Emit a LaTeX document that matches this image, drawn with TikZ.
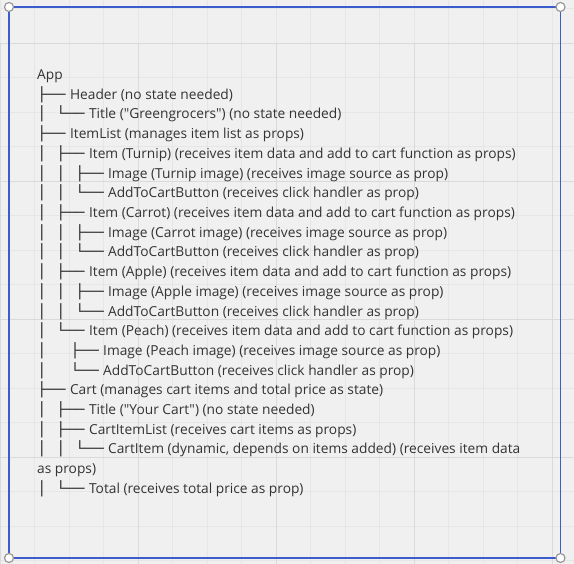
\documentclass[tikz,border=0pt]{standalone}
\usepackage{fontspec}
\setmainfont{Open Sans}[Ligatures=TeXOff]
\newfontfamily\boxfont{DejaVu Sans}[FakeStretch=1.15]
\usepackage{xcolor}
\definecolor{canvas}{HTML}{F0F0F0}
\definecolor{gridminor}{HTML}{E6E6E6}
\definecolor{gridmajor}{HTML}{DADADA}
\definecolor{frameblue}{HTML}{3A5CCC}
\definecolor{treetext}{HTML}{333333}

% tree glyphs
\newcommand{\treetee}{{\boxfont ├──}\hspace{4.3pt}}
\newcommand{\treeend}{{\boxfont └──}\hspace{4.3pt}}
\newcommand{\treebar}{{\boxfont │}\hspace{9.5pt}}
\newcommand{\treewide}{{\boxfont │}\hspace{23.6pt}}

\tikzset{
  gridline/.style={gridminor, line width=0.8pt},
  majorline/.style={gridmajor, line width=0.8pt},
  handle/.style={circle, draw=gray!80, fill=white, line width=1.2pt, inner sep=0pt, minimum size=9pt}
}

\begin{document}
\begin{tikzpicture}[x=1pt, y=-1pt]
      \useasboundingbox (0,0) rectangle (574,564);
      \fill[canvas] (0,0) rectangle (574,564);

      % background grid
      \begin{scope}[yshift=-8.5pt]
        \clip (0,-8.5) rectangle (574,555.5);
        \draw[gridline, step=34.5pt] (0,-34.5) grid (574,560);
        \draw[majorline, xstep=138pt, ystep=138pt, yshift=-34.5pt] (0,0) grid (574,600);
      \end{scope}

      % selection frame
      \coordinate (nw) at (9,7);
      \coordinate (ne) at (560.5,7);
      \coordinate (se) at (560.5,558);
      \coordinate (sw) at (9,558);
      \draw[frameblue, line width=1.5pt] (nw) -- (ne) -- (se) -- (sw) -- cycle;
      \node (hnw) [handle] at (nw) {};
      \node (hne) [handle] at (ne) {};
      \node (hse) [handle] at (se) {};
      \node (hsw) [handle] at (sw) {};

      \node (tree) [anchor=north west, inner sep=0pt, text=treetext,
                    font=\fontsize{13.75}{19.71}\selectfont] at (37,65.5) {
        \begin{tabular}{@{}l@{}}
          App \\
          \treetee Header (no state needed) \\
          \treebar\treeend Title ("Greengrocers") (no state needed) \\
          \treetee ItemList (manages item list as props) \\
          \treebar\treetee Item (Turnip) (receives item data and add to cart function as props) \\
          \treebar\treebar\treetee Image (Turnip image) (receives image source as prop) \\
          \treebar\treebar\treeend AddToCartButton (receives click handler as prop) \\
          \treebar\treetee Item (Carrot) (receives item data and add to cart function as props) \\
          \treebar\treebar\treetee Image (Carrot image) (receives image source as prop) \\
          \treebar\treebar\treeend AddToCartButton (receives click handler as prop) \\
          \treebar\treetee Item (Apple) (receives item data and add to cart function as props) \\
          \treebar\treebar\treetee Image (Apple image) (receives image source as prop) \\
          \treebar\treebar\treeend AddToCartButton (receives click handler as prop) \\
          \treebar\treeend Item (Peach) (receives item data and add to cart function as props) \\
          \treewide\treetee Image (Peach image) (receives image source as prop) \\
          \treewide\treeend AddToCartButton (receives click handler as prop) \\
          \treetee Cart (manages cart items and total price as state) \\
          \treebar\treetee Title ("Your Cart") (no state needed) \\
          \treebar\treetee CartItemList (receives cart items as props) \\
          \treebar\treebar\treeend CartItem (dynamic, depends on items added) (receives item data \\
          as props) \\
          \treebar\treeend Total (receives total price as prop)
        \end{tabular}
      };
\end{tikzpicture}
\end{document}
